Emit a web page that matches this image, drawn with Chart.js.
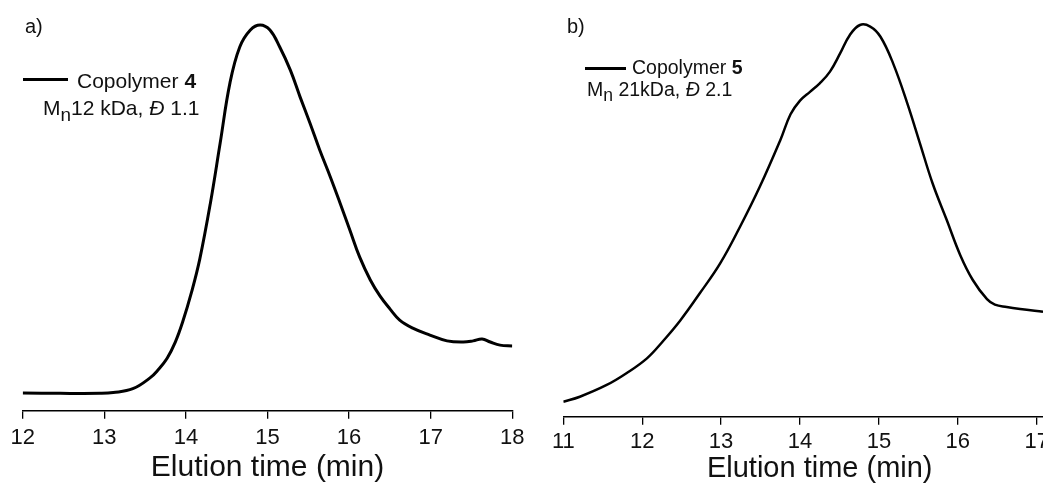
<!DOCTYPE html>
<html>
<head>
<meta charset="utf-8">
<script src="https://cdn.jsdelivr.net/npm/chart.js@4.4.0/dist/chart.umd.min.js"></script>
<style>
    html, body { margin: 0; padding: 0; background: #fff; overflow: hidden; width: 1043px; height: 485px; }
    body { position: relative; font-family: "Liberation Sans", Arial, sans-serif; color: #111; }
    canvas { position: absolute; top: 0; }
    #chartA { left: 0; }
    #chartB { left: 535px; }
    .note { position: absolute; white-space: nowrap; line-height: 1; }
    .swatch { position: absolute; background: #000; }
    .sub { font-size: 0.9em; position: relative; top: 0.3em; }
</style>
</head>
<body>
<canvas id="chartA" width="540" height="485"></canvas>
<canvas id="chartB" width="560" height="485"></canvas>

<div class="note" style="left:25px; top:16px; font-size:20px;">a)</div>
<div class="swatch" style="left:23px; top:77.5px; width:45px; height:3px;"></div>
<div class="note" style="left:77px; top:69.5px; font-size:21px;">Copolymer <b>4</b></div>
<div class="note" style="left:43px; top:97px; font-size:21px;">M<span class="sub">n</span>12 kDa, <i>Đ</i> 1.1</div>

<div class="note" style="left:567px; top:16px; font-size:20px;">b)</div>
<div class="swatch" style="left:585px; top:67px; width:41px; height:2.5px;"></div>
<div class="note" style="left:632px; top:57.5px; font-size:19.5px;">Copolymer <b>5</b></div>
<div class="note" style="left:587px; top:80px; font-size:19.5px;">M<span class="sub">n</span> 21kDa, <i>Đ</i> 2.1</div>

<script>
// Panel a: copolymer 4 (elution time in min, normalised detector signal)
const timeA = [12.0, 12.46, 12.95, 13.11, 13.35, 13.56, 13.66, 13.77, 13.87, 13.96, 14.07, 14.17, 14.30, 14.42, 14.54,
    14.66, 14.79, 14.91, 15.03, 15.15, 15.28, 15.40, 15.52, 15.64, 15.77, 15.89, 16.01, 16.13,
    16.26, 16.38, 16.50, 16.62, 16.78, 16.99, 17.20, 17.40, 17.52, 17.63, 17.73, 17.85, 18.0];
const signalA = [0.046, 0.045, 0.045, 0.047, 0.057, 0.085, 0.106, 0.136, 0.178, 0.230, 0.308, 0.393, 0.538, 0.694, 0.850,
    0.943, 0.987, 1.0, 0.987, 0.943, 0.883, 0.813, 0.746, 0.676, 0.606, 0.538, 0.468, 0.398,
    0.339, 0.297, 0.264, 0.235, 0.214, 0.196, 0.181, 0.178, 0.181, 0.186, 0.178, 0.170, 0.168];

// Panel b: copolymer 5
const timeB = [11.0, 11.21, 11.55, 11.80, 12.06, 12.26, 12.48, 12.73, 12.99, 13.24, 13.49, 13.75, 13.88,
    14.00, 14.13, 14.25, 14.38, 14.51, 14.63, 14.76, 14.89, 15.02, 15.18, 15.36, 15.52, 15.68, 15.86,
    16.03, 16.19, 16.37, 16.47, 16.62, 16.79, 17.08];
const signalB = [0.038, 0.051, 0.081, 0.111, 0.149, 0.192, 0.245, 0.315, 0.392, 0.485, 0.587, 0.706, 0.772,
    0.807, 0.830, 0.851, 0.881, 0.928, 0.974, 1.0, 0.996, 0.970, 0.902, 0.800, 0.698, 0.596, 0.502,
    0.413, 0.349, 0.300, 0.286, 0.280, 0.275, 0.268];

const axisTitle = 'Elution time (min)';
const fontFamily = '"Liberation Sans", Arial, sans-serif';

function makeChart(id, times, signal, opts) {
    const points = times.map((t, i) => ({ x: t, y: signal[i] }));
    return new Chart(document.getElementById(id).getContext('2d'), {
        type: 'line',
        data: {
            datasets: [{
                data: points,
                borderColor: '#000',
                borderWidth: opts.lineWidth,
                pointRadius: 0,
                tension: 0.4,
                fill: false
            }]
        },
        options: {
            responsive: false,
            animation: false,
            layout: { padding: opts.padding },
            plugins: { legend: { display: false }, tooltip: { enabled: false } },
            scales: {
                x: {
                    type: 'linear',
                    min: opts.xMin,
                    max: opts.xMax,
                    afterFit: (scale) => { scale.height = opts.axisHeight; },
                    grid: { drawOnChartArea: false, drawTicks: true, tickLength: 8, color: '#000', lineWidth: 1.3 },
                    border: { display: true, color: '#000', width: 1.5 },
                    ticks: {
                        stepSize: 1,
                        includeBounds: false,
                        padding: opts.tickPad,
                        color: '#111',
                        font: { family: fontFamily, size: 22 }
                    },
                    title: {
                        display: true,
                        text: axisTitle,
                        color: '#111',
                        font: { family: fontFamily, size: opts.titleSize },
                        padding: { top: 0, bottom: opts.titlePad }
                    }
                },
                y: { display: false, min: 0, max: 1.05 }
            }
        }
    });
}

makeChart('chartA', timeA, signalA, {
    xMin: 12, xMax: 18, lineWidth: 3,
    padding: { left: 22.7, right: 27.7, top: 5.7, bottom: 0 },
    axisHeight: 74.3, tickPad: 6.1, titleSize: 30, titlePad: -1
});

makeChart('chartB', timeB, signalB, {
    xMin: 11, xMax: 17.5, lineWidth: 2.5,
    padding: { left: 28.3, right: 18.85, top: 5.4, bottom: 0 },
    axisHeight: 68.3, tickPad: 3.8, titleSize: 29, titlePad: -1
});
</script>
</body>
</html>
